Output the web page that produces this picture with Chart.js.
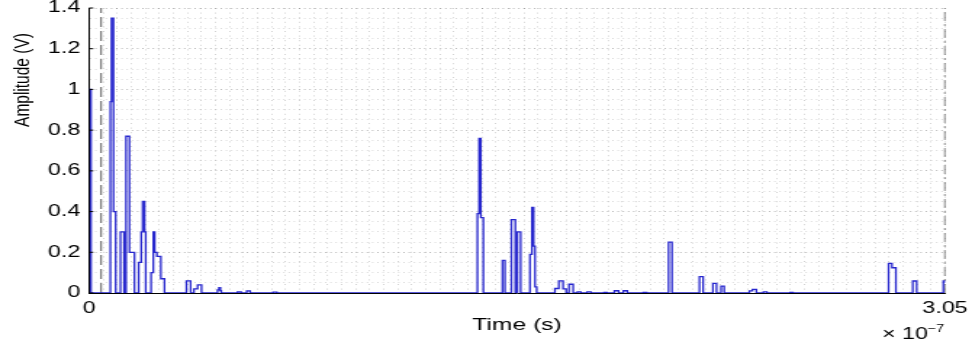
<!DOCTYPE html>
<html>
<head>
<meta charset="utf-8">
<script src="https://cdn.jsdelivr.net/npm/chart.js@4.4.1/dist/chart.umd.min.js"></script>
<style>
  html, body { margin: 0; padding: 0; background: #fff; }
  #pulse { display: block; width: 972px !important; height: 352px !important; }
</style>
</head>
<body>
<canvas id="pulse" width="670" height="352" style="width:972px;height:352px"></canvas>
<script>
// time is in units of 1e-7 s (axis shows "x 10^-7"), amplitude in V
// each level holds from its time until the next one
const stepTimes = [0, 0.007, 0.076, 0.080, 0.087, 0.095, 0.112, 0.125, 0.132, 0.144,
  0.162, 0.177, 0.186, 0.191, 0.198, 0.202, 0.221, 0.229, 0.234, 0.242,
  0.256, 0.269, 0.347, 0.362, 0.374, 0.387, 0.401, 0.458, 0.463, 0.468,
  0.471, 0.529, 0.542, 0.562, 0.574, 0.656, 0.669, 1.384, 1.390, 1.396,
  1.405, 1.473, 1.482, 1.505, 1.519, 1.526, 1.538, 1.571, 1.578, 1.584,
  1.589, 1.595, 1.660, 1.674, 1.689, 1.700, 1.710, 1.725, 1.740, 1.752,
  1.775, 1.788, 1.835, 1.845, 1.872, 1.887, 1.904, 1.918, 1.975, 1.987,
  2.065, 2.077, 2.175, 2.188, 2.223, 2.236, 2.252, 2.263, 2.353, 2.364,
  2.378, 2.403, 2.415, 2.498, 2.508, 2.849, 2.861, 2.875, 2.935, 2.949,
  3.044, 3.05];
const stepVolts = [1.0, 0, 0.94, 1.35, 0.40, 0, 0.30, 0, 0.77, 0.20,
  0, 0.15, 0.30, 0.45, 0.30, 0, 0.10, 0.30, 0.20, 0.18,
  0.07, 0, 0.06, 0, 0.02, 0.04, 0, 0.015, 0.026, 0.012,
  0, 0.005, 0, 0.01, 0, 0.004, 0, 0.39, 0.76, 0.37,
  0, 0.16, 0, 0.36, 0, 0.30, 0, 0.19, 0.42, 0.23,
  0.03, 0, 0.022, 0.06, 0.02, 0, 0.043, 0, 0.006, 0,
  0.006, 0, 0.003, 0, 0.011, 0, 0.011, 0, 0.003, 0,
  0.25, 0, 0.08, 0, 0.047, 0, 0.034, 0, 0.01, 0.018,
  0, 0.006, 0, 0.003, 0, 0.146, 0.124, 0, 0.059, 0,
  0.059, 0.05];

const startMarker = 0.043; // grey dashed line
const endMarker = 3.05;    // dash-dot line at the end of the window
const xTickLabels = ["0", "3.05"];
const yTickLabels = ["0", "0.2", "0.4", "0.6", "0.8", "1", "1.2", "1.4"];
const xMin = 0, xMax = 3.05, yMin = 0, yMax = 1.4;

// the original figure is stretched sideways, so draw narrow and let css widen it
const fontFamily = '"Liberation Sans", Arial, Helvetica, sans-serif';

function gridTicks(max) {
  // minor grid every 0.05
  const out = [];
  for (let k = 0; k * 5 <= Math.round(max * 100); k++) out.push(k * 5 / 100);
  return out;
}
const xGrid = gridTicks(xMax);
const yGrid = gridTicks(yMax);

const extras = {
  id: "extras",
  afterDraw(chart) {
    const { ctx, chartArea, scales } = chart;
    const y = scales.y;
    ctx.save();
    ctx.strokeStyle = "#000";
    ctx.lineWidth = 1;
    y.ticks.forEach(function (t, i) {
      if (i % 4) return;
      const py = y.getPixelForValue(t.value);
      ctx.beginPath();
      ctx.moveTo(chartArea.left, py);
      ctx.lineTo(chartArea.left + 3, py);
      ctx.stroke();
    });
    ctx.fillStyle = "#000";
    ctx.font = "15.5px " + fontFamily;
    ctx.textAlign = "center";
    ctx.textBaseline = "middle";
    ctx.save();
    ctx.translate(15.5, 80);
    ctx.rotate(-Math.PI / 2);
    ctx.fillText("Amplitude (V)", 0, 0);
    ctx.restore();
    ctx.textAlign = "left";
    ctx.textBaseline = "alphabetic";
    ctx.font = "16px " + fontFamily;
    ctx.fillText("\u00d7 10", 608, 339);
    ctx.font = "10px " + fontFamily;
    ctx.fillText("\u22127", 639.5, 332);
    ctx.restore();
  },
};

const ctx = document.getElementById("pulse").getContext("2d");
const pulseChart = new Chart(ctx, {
  type: "line",
  data: {
    datasets: [
      {
        data: stepTimes.map((t, i) => ({ x: t, y: stepVolts[i] })),
        borderColor: "rgb(38, 38, 205)",
        borderWidth: 1.3,
        stepped: true,
        pointRadius: 0,
        fill: false,
      },
      {
        data: [{ x: startMarker, y: yMin }, { x: startMarker, y: yMax }],
        borderColor: "#777",
        borderWidth: 1.2,
        borderDash: [10, 4],
        pointRadius: 0,
      },
      {
        data: [{ x: endMarker, y: yMin }, { x: endMarker, y: yMax }],
        borderColor: "#222",
        borderWidth: 1.1,
        borderDash: [9, 3, 2, 3],
        pointRadius: 0,
      },
    ],
  },
  options: {
    responsive: false,
    devicePixelRatio: 1,
    animation: false,
    layout: { padding: { top: 8, right: 18.6, bottom: 0, left: 0 } },
    plugins: { legend: { display: false }, tooltip: { enabled: false } },
    scales: {
      x: {
        type: "linear",
        min: xMin,
        max: xMax,
        afterBuildTicks: (s) => { s.ticks = xGrid.map((v) => ({ value: v })); },
        afterFit: (s) => { s.height = 59; s.paddingLeft = 0; s.paddingRight = 0; },
        ticks: {
          autoSkip: false,
          maxRotation: 0,
          padding: 6,
          color: "#000",
          font: { family: fontFamily, size: 16 },
          callback: (v, i, t) => (i === 0 ? xTickLabels[0] : i === t.length - 1 ? xTickLabels[1] : ""),
        },
        grid: { color: "rgba(0,0,0,0.2)", lineWidth: 0.9, drawTicks: false },
        border: { display: true, color: "#000", width: 1, dash: [1, 3.6] },
        title: {
          display: true,
          text: "Time (s)",
          color: "#000",
          font: { family: fontFamily, size: 17 },
          padding: { top: 0, bottom: 16 },
        },
      },
      y: {
        min: yMin,
        max: yMax,
        afterBuildTicks: (s) => { s.ticks = yGrid.map((v) => ({ value: v })); },
        afterFit: (s) => { s.width = 61.35; s.paddingTop = 0; s.paddingBottom = 0; },
        ticks: {
          autoSkip: false,
          padding: 6,
          color: "#000",
          font: { family: fontFamily, size: 16 },
          callback: (v, i) => (i % 4 === 0 ? yTickLabels[i / 4] : ""),
        },
        grid: {
          color: (c) => (c.index % 4 === 0 ? "rgba(0,0,0,0.28)" : "rgba(0,0,0,0.15)"),
          lineWidth: 1,
          drawTicks: false,
        },
        border: { display: true, color: "#000", width: 1, dash: [1, 2.6] },
      },
    },
  },
  plugins: [extras],
});
</script>
</body>
</html>
